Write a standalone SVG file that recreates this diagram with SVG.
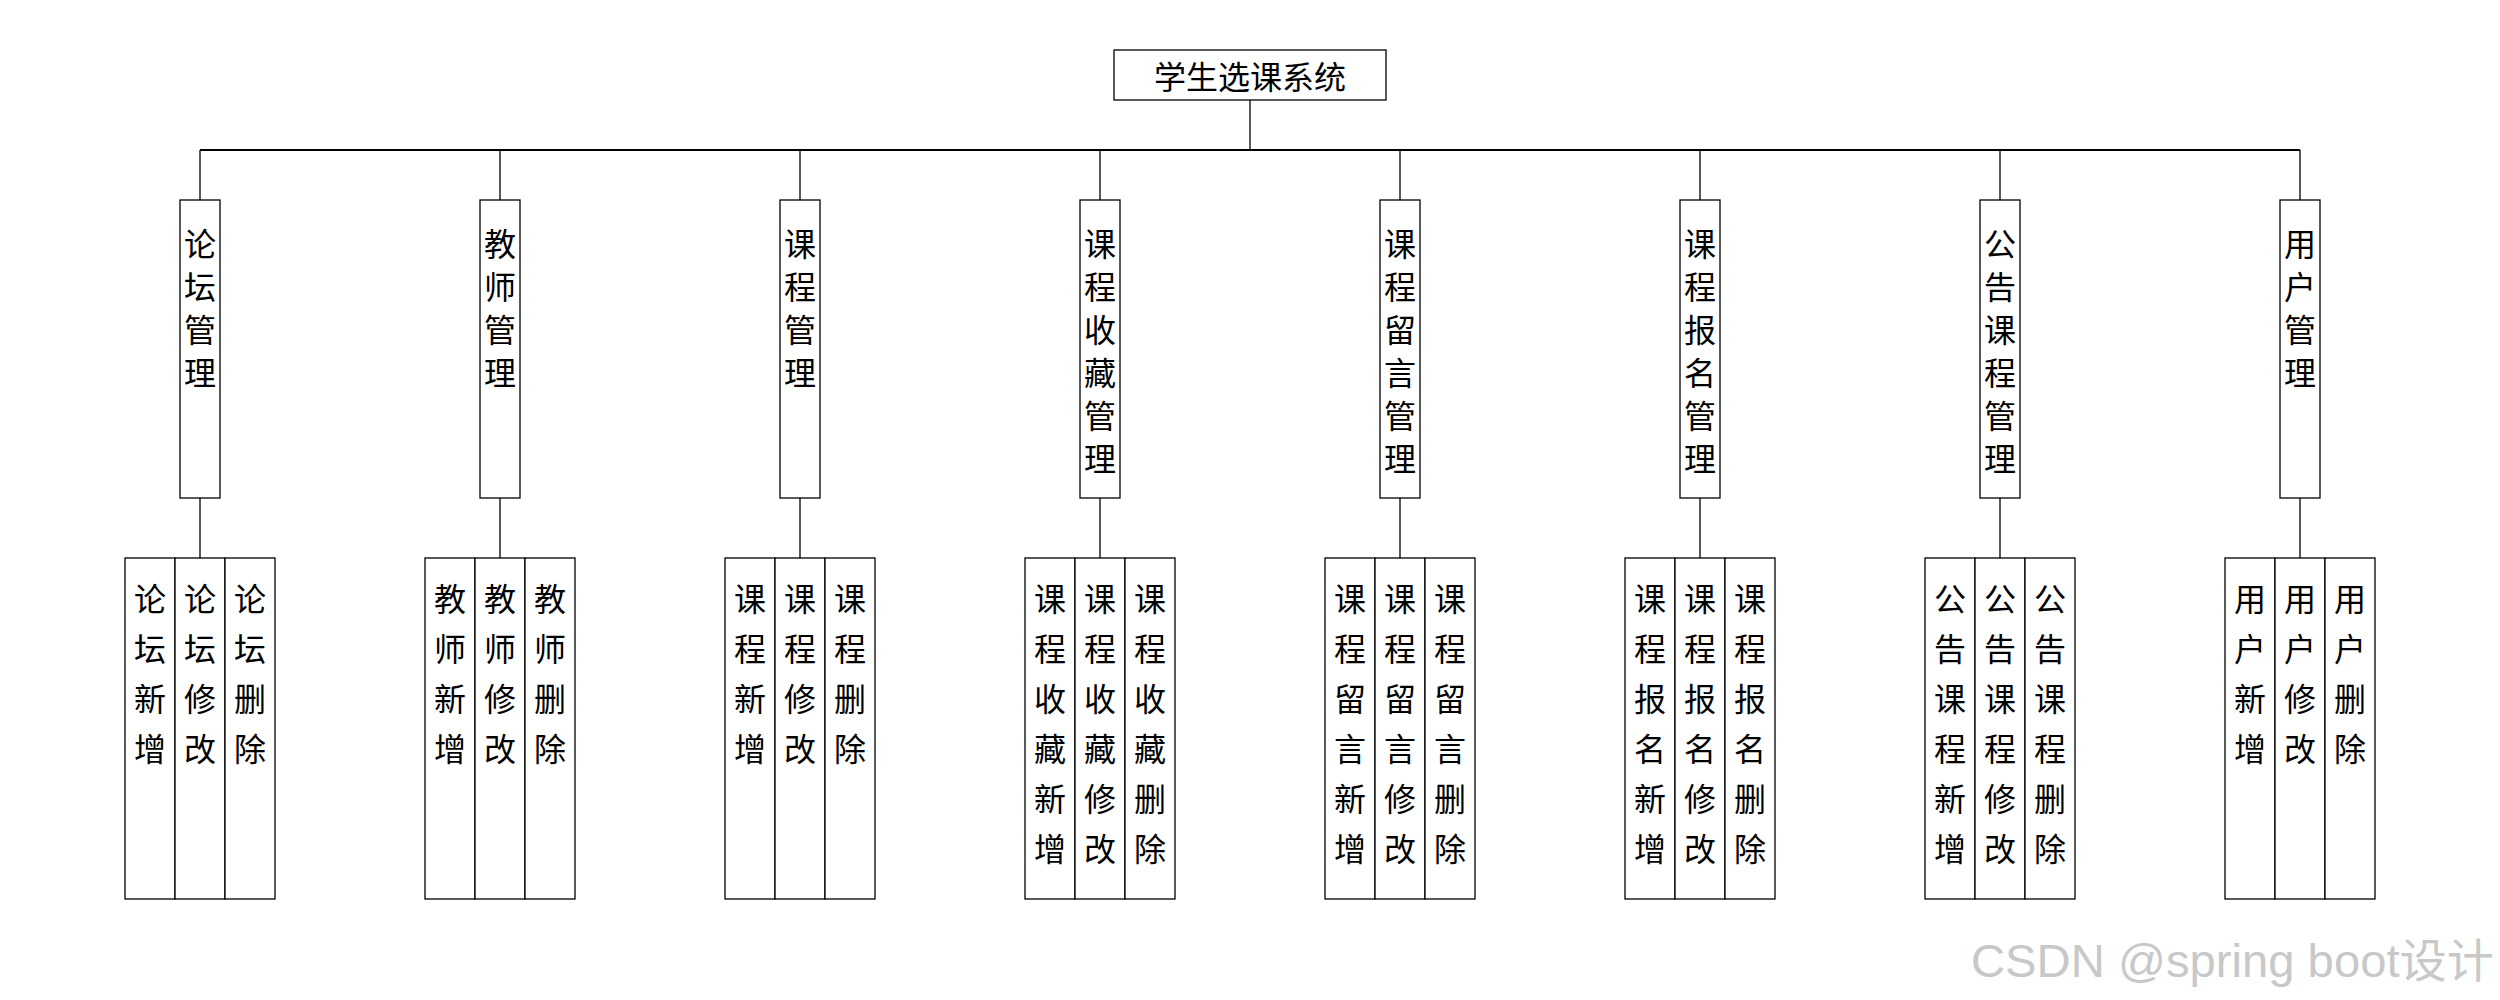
<svg xmlns="http://www.w3.org/2000/svg" width="2500" height="1000" viewBox="0 0 2500 1000">
<style>
.box{fill:#fff;stroke:#000;stroke-width:1.3}
.ln{fill:none;stroke:#000;stroke-width:1.3}
.bus{fill:none;stroke:#000;stroke-width:2}
.t{font-family:"Noto Sans CJK SC","Noto Sans",sans-serif;font-size:32px;fill:#000;text-anchor:middle;dominant-baseline:central}
.wm{font-family:"Liberation Sans","Noto Sans CJK SC",sans-serif;font-size:46px;fill:#c8c8c8}
</style>
<rect width="2500" height="1000" fill="#fff"/>
<g id="connectors">
<path class="ln" d="M1250 100V150"/>
<path class="bus" d="M200 150H2300"/>
<path class="ln" d="M200 150V200M500 150V200M800 150V200M1100 150V200M1400 150V200M1700 150V200M2000 150V200M2300 150V200"/>
<path class="ln" d="M200 498V558M500 498V558M800 498V558M1100 498V558M1400 498V558M1700 498V558M2000 498V558M2300 498V558"/>
</g>
<g id="root">
<rect class="box" x="1114" y="50" width="272" height="50"/>
<text class="t" x="1250" y="75">学生选课系统</text>
</g>
<g id="n1">
<rect class="box" x="180" y="200" width="40" height="298"/>
<text class="t"><tspan x="200" y="242">论</tspan><tspan x="200" y="285">坛</tspan><tspan x="200" y="328">管</tspan><tspan x="200" y="371">理</tspan></text>
</g>
<g id="n2">
<rect class="box" x="480" y="200" width="40" height="298"/>
<text class="t"><tspan x="500" y="242">教</tspan><tspan x="500" y="285">师</tspan><tspan x="500" y="328">管</tspan><tspan x="500" y="371">理</tspan></text>
</g>
<g id="n3">
<rect class="box" x="780" y="200" width="40" height="298"/>
<text class="t"><tspan x="800" y="242">课</tspan><tspan x="800" y="285">程</tspan><tspan x="800" y="328">管</tspan><tspan x="800" y="371">理</tspan></text>
</g>
<g id="n4">
<rect class="box" x="1080" y="200" width="40" height="298"/>
<text class="t"><tspan x="1100" y="242">课</tspan><tspan x="1100" y="285">程</tspan><tspan x="1100" y="328">收</tspan><tspan x="1100" y="371">藏</tspan><tspan x="1100" y="414">管</tspan><tspan x="1100" y="457">理</tspan></text>
</g>
<g id="n5">
<rect class="box" x="1380" y="200" width="40" height="298"/>
<text class="t"><tspan x="1400" y="242">课</tspan><tspan x="1400" y="285">程</tspan><tspan x="1400" y="328">留</tspan><tspan x="1400" y="371">言</tspan><tspan x="1400" y="414">管</tspan><tspan x="1400" y="457">理</tspan></text>
</g>
<g id="n6">
<rect class="box" x="1680" y="200" width="40" height="298"/>
<text class="t"><tspan x="1700" y="242">课</tspan><tspan x="1700" y="285">程</tspan><tspan x="1700" y="328">报</tspan><tspan x="1700" y="371">名</tspan><tspan x="1700" y="414">管</tspan><tspan x="1700" y="457">理</tspan></text>
</g>
<g id="n7">
<rect class="box" x="1980" y="200" width="40" height="298"/>
<text class="t"><tspan x="2000" y="242">公</tspan><tspan x="2000" y="285">告</tspan><tspan x="2000" y="328">课</tspan><tspan x="2000" y="371">程</tspan><tspan x="2000" y="414">管</tspan><tspan x="2000" y="457">理</tspan></text>
</g>
<g id="n8">
<rect class="box" x="2280" y="200" width="40" height="298"/>
<text class="t"><tspan x="2300" y="242">用</tspan><tspan x="2300" y="285">户</tspan><tspan x="2300" y="328">管</tspan><tspan x="2300" y="371">理</tspan></text>
</g>
<g id="n1-leaves">
<rect class="box" x="125" y="558" width="50" height="341"/><rect class="box" x="175" y="558" width="50" height="341"/><rect class="box" x="225" y="558" width="50" height="341"/>
<text class="t"><tspan x="150" y="597">论</tspan><tspan x="150" y="647">坛</tspan><tspan x="150" y="697">新</tspan><tspan x="150" y="747">增</tspan></text>
<text class="t"><tspan x="200" y="597">论</tspan><tspan x="200" y="647">坛</tspan><tspan x="200" y="697">修</tspan><tspan x="200" y="747">改</tspan></text>
<text class="t"><tspan x="250" y="597">论</tspan><tspan x="250" y="647">坛</tspan><tspan x="250" y="697">删</tspan><tspan x="250" y="747">除</tspan></text>
</g>
<g id="n2-leaves">
<rect class="box" x="425" y="558" width="50" height="341"/><rect class="box" x="475" y="558" width="50" height="341"/><rect class="box" x="525" y="558" width="50" height="341"/>
<text class="t"><tspan x="450" y="597">教</tspan><tspan x="450" y="647">师</tspan><tspan x="450" y="697">新</tspan><tspan x="450" y="747">增</tspan></text>
<text class="t"><tspan x="500" y="597">教</tspan><tspan x="500" y="647">师</tspan><tspan x="500" y="697">修</tspan><tspan x="500" y="747">改</tspan></text>
<text class="t"><tspan x="550" y="597">教</tspan><tspan x="550" y="647">师</tspan><tspan x="550" y="697">删</tspan><tspan x="550" y="747">除</tspan></text>
</g>
<g id="n3-leaves">
<rect class="box" x="725" y="558" width="50" height="341"/><rect class="box" x="775" y="558" width="50" height="341"/><rect class="box" x="825" y="558" width="50" height="341"/>
<text class="t"><tspan x="750" y="597">课</tspan><tspan x="750" y="647">程</tspan><tspan x="750" y="697">新</tspan><tspan x="750" y="747">增</tspan></text>
<text class="t"><tspan x="800" y="597">课</tspan><tspan x="800" y="647">程</tspan><tspan x="800" y="697">修</tspan><tspan x="800" y="747">改</tspan></text>
<text class="t"><tspan x="850" y="597">课</tspan><tspan x="850" y="647">程</tspan><tspan x="850" y="697">删</tspan><tspan x="850" y="747">除</tspan></text>
</g>
<g id="n4-leaves">
<rect class="box" x="1025" y="558" width="50" height="341"/><rect class="box" x="1075" y="558" width="50" height="341"/><rect class="box" x="1125" y="558" width="50" height="341"/>
<text class="t"><tspan x="1050" y="597">课</tspan><tspan x="1050" y="647">程</tspan><tspan x="1050" y="697">收</tspan><tspan x="1050" y="747">藏</tspan><tspan x="1050" y="797">新</tspan><tspan x="1050" y="847">增</tspan></text>
<text class="t"><tspan x="1100" y="597">课</tspan><tspan x="1100" y="647">程</tspan><tspan x="1100" y="697">收</tspan><tspan x="1100" y="747">藏</tspan><tspan x="1100" y="797">修</tspan><tspan x="1100" y="847">改</tspan></text>
<text class="t"><tspan x="1150" y="597">课</tspan><tspan x="1150" y="647">程</tspan><tspan x="1150" y="697">收</tspan><tspan x="1150" y="747">藏</tspan><tspan x="1150" y="797">删</tspan><tspan x="1150" y="847">除</tspan></text>
</g>
<g id="n5-leaves">
<rect class="box" x="1325" y="558" width="50" height="341"/><rect class="box" x="1375" y="558" width="50" height="341"/><rect class="box" x="1425" y="558" width="50" height="341"/>
<text class="t"><tspan x="1350" y="597">课</tspan><tspan x="1350" y="647">程</tspan><tspan x="1350" y="697">留</tspan><tspan x="1350" y="747">言</tspan><tspan x="1350" y="797">新</tspan><tspan x="1350" y="847">增</tspan></text>
<text class="t"><tspan x="1400" y="597">课</tspan><tspan x="1400" y="647">程</tspan><tspan x="1400" y="697">留</tspan><tspan x="1400" y="747">言</tspan><tspan x="1400" y="797">修</tspan><tspan x="1400" y="847">改</tspan></text>
<text class="t"><tspan x="1450" y="597">课</tspan><tspan x="1450" y="647">程</tspan><tspan x="1450" y="697">留</tspan><tspan x="1450" y="747">言</tspan><tspan x="1450" y="797">删</tspan><tspan x="1450" y="847">除</tspan></text>
</g>
<g id="n6-leaves">
<rect class="box" x="1625" y="558" width="50" height="341"/><rect class="box" x="1675" y="558" width="50" height="341"/><rect class="box" x="1725" y="558" width="50" height="341"/>
<text class="t"><tspan x="1650" y="597">课</tspan><tspan x="1650" y="647">程</tspan><tspan x="1650" y="697">报</tspan><tspan x="1650" y="747">名</tspan><tspan x="1650" y="797">新</tspan><tspan x="1650" y="847">增</tspan></text>
<text class="t"><tspan x="1700" y="597">课</tspan><tspan x="1700" y="647">程</tspan><tspan x="1700" y="697">报</tspan><tspan x="1700" y="747">名</tspan><tspan x="1700" y="797">修</tspan><tspan x="1700" y="847">改</tspan></text>
<text class="t"><tspan x="1750" y="597">课</tspan><tspan x="1750" y="647">程</tspan><tspan x="1750" y="697">报</tspan><tspan x="1750" y="747">名</tspan><tspan x="1750" y="797">删</tspan><tspan x="1750" y="847">除</tspan></text>
</g>
<g id="n7-leaves">
<rect class="box" x="1925" y="558" width="50" height="341"/><rect class="box" x="1975" y="558" width="50" height="341"/><rect class="box" x="2025" y="558" width="50" height="341"/>
<text class="t"><tspan x="1950" y="597">公</tspan><tspan x="1950" y="647">告</tspan><tspan x="1950" y="697">课</tspan><tspan x="1950" y="747">程</tspan><tspan x="1950" y="797">新</tspan><tspan x="1950" y="847">增</tspan></text>
<text class="t"><tspan x="2000" y="597">公</tspan><tspan x="2000" y="647">告</tspan><tspan x="2000" y="697">课</tspan><tspan x="2000" y="747">程</tspan><tspan x="2000" y="797">修</tspan><tspan x="2000" y="847">改</tspan></text>
<text class="t"><tspan x="2050" y="597">公</tspan><tspan x="2050" y="647">告</tspan><tspan x="2050" y="697">课</tspan><tspan x="2050" y="747">程</tspan><tspan x="2050" y="797">删</tspan><tspan x="2050" y="847">除</tspan></text>
</g>
<g id="n8-leaves">
<rect class="box" x="2225" y="558" width="50" height="341"/><rect class="box" x="2275" y="558" width="50" height="341"/><rect class="box" x="2325" y="558" width="50" height="341"/>
<text class="t"><tspan x="2250" y="597">用</tspan><tspan x="2250" y="647">户</tspan><tspan x="2250" y="697">新</tspan><tspan x="2250" y="747">增</tspan></text>
<text class="t"><tspan x="2300" y="597">用</tspan><tspan x="2300" y="647">户</tspan><tspan x="2300" y="697">修</tspan><tspan x="2300" y="747">改</tspan></text>
<text class="t"><tspan x="2350" y="597">用</tspan><tspan x="2350" y="647">户</tspan><tspan x="2350" y="697">删</tspan><tspan x="2350" y="747">除</tspan></text>
</g>
<text class="wm" x="1971" y="977" textLength="523" lengthAdjust="spacingAndGlyphs">CSDN @spring boot设计</text>
</svg>
